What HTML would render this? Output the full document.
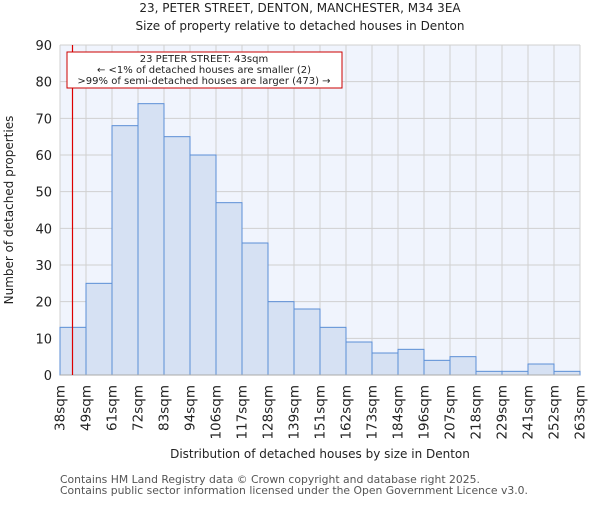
<!DOCTYPE html>
<html><head><meta charset="utf-8"><style>
body{margin:0;background:#fff;font-family:"Liberation Sans","DejaVu Sans",sans-serif}
text{font-family:"DejaVu Sans","Liberation Sans",sans-serif}
</style></head><body>
<svg id="chart" width="600" height="500" xmlns="http://www.w3.org/2000/svg">
<text x="300" y="12" text-anchor="middle" font-size="12" fill="#222">23, PETER STREET, DENTON, MANCHESTER, M34 3EA</text>
<text x="300" y="30" text-anchor="middle" font-size="12" fill="#222">Size of property relative to detached houses in Denton</text>
<rect x="60" y="45" width="520" height="330" fill="#f0f4fd"/>
<g id="grid"></g><g id="bars"></g><g id="xt"></g><g id="yt"></g>
<line x1="60" y1="375" x2="580" y2="375" stroke="#aaa"/>
<text transform="translate(13,210) rotate(-90)" text-anchor="middle" font-size="12" fill="#222">Number of detached properties</text>
<text x="320" y="458" text-anchor="middle" font-size="12" fill="#222">Distribution of detached houses by size in Denton</text>
<text x="60" y="483" font-size="10.8" fill="#555">Contains HM Land Registry data © Crown copyright and database right 2025.</text>
<text x="60" y="494" font-size="10.8" fill="#555">Contains public sector information licensed under the Open Government Licence v3.0.</text>
<line id="marker" y1="45" y2="375" stroke="#dd0000" stroke-width="1.2"/>
<rect x="67" y="52" width="275" height="36" fill="#fff" stroke="#cc0000"/>
<text x="204" y="62" text-anchor="middle" font-size="10" fill="#222"><tspan x="204">23 PETER STREET: 43sqm</tspan><tspan x="204" dy="11">← &lt;1% of detached houses are smaller (2)</tspan><tspan x="204" dy="11">&gt;99% of semi-detached houses are larger (473) →</tspan></text>
</svg>
<script>
const categories=["38sqm","49sqm","61sqm","72sqm","83sqm","94sqm","106sqm","117sqm","128sqm","139sqm","151sqm","162sqm","173sqm","184sqm","196sqm","207sqm","218sqm","229sqm","241sqm","252sqm","263sqm"];
const counts=[13,25,68,74,65,60,47,36,20,18,13,9,6,7,4,5,1,1,3,1];
const yTicks=[0,10,20,30,40,50,60,70,80,90];
const markerSqm=43, binStart=38, binWidthSqm=11.25;
const NS="http://www.w3.org/2000/svg";
const x0=60,x1=580,y0=375,y1=45;
const bw=(x1-x0)/counts.length;
const xs=i=>x0+i*bw;
const ys=v=>y0-(v/90)*(y0-y1);
function mk(t,a,p){const e=document.createElementNS(NS,t);for(const k in a)e.setAttribute(k,a[k]);p.appendChild(e);return e;}
const grid=document.getElementById('grid'),bars=document.getElementById('bars'),xt=document.getElementById('xt'),yt=document.getElementById('yt');
yTicks.forEach(v=>{
 const l=mk('line',{x1:x0,x2:x1,y1:ys(v),y2:ys(v),stroke:'#d0d0d0'},grid);
 
 
 const t=mk('text',{x:x0-8,y:ys(v)+5,'text-anchor':'end','font-size':13,fill:'#222'},yt);
 
 
 t.textContent=v;
});
categories.forEach((c,i)=>{
 const l=mk('line',{x1:xs(i),x2:xs(i),y1:y1,y2:y0,stroke:'#d0d0d0'},grid);
 
 
 const t=mk('text',{transform:`translate(${xs(i)+4.5},385) rotate(-90)`,'text-anchor':'end','font-size':13.5,fill:'#222'},xt);
 
 
 t.textContent=c;
});
counts.forEach((v,i)=>{
 const r=mk('rect',{x:xs(i),y:ys(v),width:bw,height:y0-ys(v),fill:'#d6e1f3',stroke:'#5b8ed6','stroke-width':1},bars);
 
 
});
const m=document.getElementById('marker');
const mx=Math.round(x0+(markerSqm-binStart)/binWidthSqm*bw)+0.5;
m.setAttribute('x1',mx);m.setAttribute('x2',mx);
</script>
</body></html>
